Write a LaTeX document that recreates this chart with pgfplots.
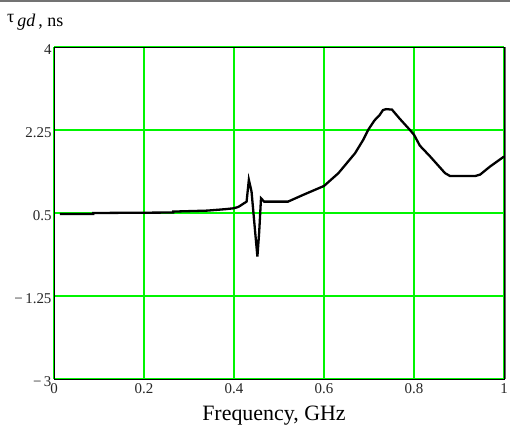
\documentclass[border=0pt]{standalone}
\usepackage{fontspec}
\setmainfont{Liberation Serif}
\usepackage{pgfplots}
\pgfplotsset{compat=1.18}
\definecolor{gridgreen}{RGB}{0,245,0}
\begin{document}
\begin{tikzpicture}
\useasboundingbox (0,0) rectangle (510bp,425bp);
\draw[black!55, line width=1.2bp] (0,424bp) -- (510bp,424bp);
\begin{axis}[
  at={(54bp,46bp)}, anchor=south west,
  scale only axis, width=450bp, height=332bp,
  xmin=0, xmax=1, ymin=-3, ymax=4,
  xtick={0,0.2,0.4,0.6,0.8,1},
  xticklabels={0,0.2,0.4,0.6,0.8,1},
  ytick={-3,-1.25,0.5,2.25,4},
  yticklabels={−\,3,−\,1.25,0.5,2.25,4},
  major tick length=0pt,
  xmajorgrids=true, ymajorgrids=true,
  grid style={draw=gridgreen, line width=1.2bp},
  major grid style={draw=gridgreen, line width=1.2bp},
  axis line style={black, line width=0.9bp},
  tick label style={font=\fontsize{15}{15}\selectfont, text=black!85},
  xticklabel style={yshift=-1bp},
  yticklabel style={xshift=1bp, yshift=-3bp},
]
\addplot[black, line width=2.3bp] coordinates {
(0.013,0.48) (0.087,0.48) (0.087,0.50) (0.265,0.51) (0.265,0.53)
(0.34,0.55) (0.38,0.58) (0.40,0.60) (0.41,0.63) (0.428,0.74)
(0.433,1.20) (0.439,0.95) (0.447,0.10) (0.452,-0.42) (0.456,0.10)
(0.460,0.81) (0.467,0.74) (0.52,0.74) (0.558,0.90) (0.60,1.07)
(0.632,1.34) (0.669,1.76) (0.687,2.04) (0.698,2.25) (0.712,2.45)
(0.724,2.57) (0.731,2.67) (0.738,2.69) (0.751,2.68) (0.769,2.48)
(0.791,2.25) (0.80,2.15) (0.813,1.92) (0.836,1.69) (0.869,1.34)
(0.88,1.28) (0.936,1.28) (0.947,1.31) (0.969,1.48) (1.0,1.69)
};
\end{axis}
\draw[black!60, line width=1.5bp] (505.5bp,46bp) -- (505.5bp,378bp);
\node[anchor=base west, inner sep=0pt, font=\fontsize{18}{18}\selectfont] at (7bp,398bp)
  {\raisebox{4bp}{τ}\,\textit{gd}\,, ns};
\node[anchor=base, inner sep=0pt, font=\fontsize{22}{22}\selectfont] at (274bp,5bp) {Frequency, GHz};
\end{tikzpicture}
\end{document}
